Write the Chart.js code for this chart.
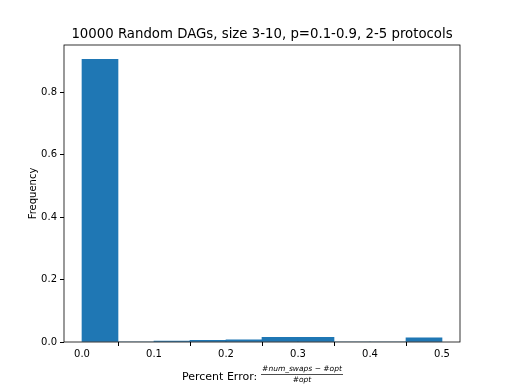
<!DOCTYPE html>
<html>
<head>
<meta charset="utf-8">
<script src="https://cdn.jsdelivr.net/npm/chart.js@4"></script>
<style>
  html, body { margin: 0; padding: 0; background: #fff; }
  #wrap { width: 512px; height: 384px; }
</style>
</head>
<body>
<div id="wrap"><canvas id="histChart" width="512" height="384"></canvas></div>
<script>
// histogram bins (left edges) and frequencies
const binEdges = [0.0, 0.05, 0.1, 0.15, 0.2, 0.25, 0.3, 0.35, 0.4, 0.45];
const binWidth = 0.05;
const frequency = [0.906, 0, 0.003, 0.005, 0.007, 0.015, 0.015, 0, 0, 0.013];
const xTicks = [0.0, 0.1, 0.2, 0.3, 0.4, 0.5];
const yTicks = [0.0, 0.2, 0.4, 0.6, 0.8];

const FONT = "DejaVu Sans";

// axes box + titles, drawn like matplotlib does
const decorations = {
  id: "decorations",
  afterDraw(chart) {
    const { ctx, chartArea: a } = chart;
    ctx.save();
    ctx.strokeStyle = "#000";
    ctx.lineWidth = 0.8;
    ctx.strokeRect(a.left, a.top, a.right - a.left, a.bottom - a.top);

    ctx.fillStyle = "#000";
    ctx.textAlign = "center";
    ctx.textBaseline = "alphabetic";
    ctx.font = "13.3px '" + FONT + "'";
    ctx.fillText("10000 Random DAGs, size 3-10, p=0.1-0.9, 2-5 protocols", (a.left + a.right) / 2, 38);

    // y label
    ctx.font = "10px '" + FONT + "'";
    ctx.save();
    ctx.translate(33, (a.top + a.bottom) / 2);
    ctx.rotate(-Math.PI / 2);
    ctx.textBaseline = "middle";
    ctx.fillText("Frequency", 0, 0);
    ctx.restore();

    // x label with fraction
    ctx.textAlign = "left";
    ctx.textBaseline = "middle";
    ctx.font = "11px '" + FONT + "'";
    ctx.fillText("Percent Error:", 182, 377);
    ctx.font = "italic 7.5px '" + FONT + "'";
    ctx.textAlign = "center";
    ctx.fillText("#num_swaps \u2212 #opt", 302, 369);
    ctx.beginPath();
    ctx.lineWidth = 0.7;
    ctx.moveTo(261, 374.5);
    ctx.lineTo(343, 374.5);
    ctx.stroke();
    ctx.fillText("#opt", 302, 380);
    ctx.restore();
  }
};

const ctx = document.getElementById("histChart");
new Chart(ctx, {
  type: "bar",
  data: {
    datasets: [{
      data: binEdges.map((e, i) => ({ x: e + binWidth / 2, y: frequency[i] })),
      backgroundColor: "#1f77b4",
      borderWidth: 0,
      barPercentage: 1.0,
      categoryPercentage: 1.0
    }]
  },
  options: {
    responsive: false,
    animation: false,
    layout: { padding: { top: 45, right: 52, left: 0, bottom: 0 } },
    plugins: {
      legend: { display: false },
      tooltip: { enabled: false }
    },
    scales: {
      x: {
        type: "linear",
        min: -0.025,
        max: 0.525,
        offset: false,
        afterBuildTicks: (scale) => { scale.ticks = xTicks.map(v => ({ value: v })); },
        afterFit: (scale) => { scale.height = 42; },
        grid: { drawOnChartArea: false, drawTicks: true, tickLength: 4, tickColor: "#000" },
        border: { display: false },
        ticks: {
          color: "#000",
          font: { family: FONT, size: 10 },
          padding: 2,
          maxRotation: 0,
          callback: (v) => Number(v).toFixed(1)
        }
      },
      y: {
        min: 0,
        max: 0.952,
        afterBuildTicks: (scale) => { scale.ticks = yTicks.map(v => ({ value: v })); },
        afterFit: (scale) => { scale.width = 64; },
        grid: { drawOnChartArea: false, drawTicks: true, tickLength: 4, tickColor: "#000" },
        border: { display: false },
        ticks: {
          color: "#000",
          font: { family: FONT, size: 10 },
          padding: 3,
          callback: (v) => Number(v).toFixed(1)
        }
      }
    }
  },
  plugins: [decorations]
});
</script>
</body>
</html>
